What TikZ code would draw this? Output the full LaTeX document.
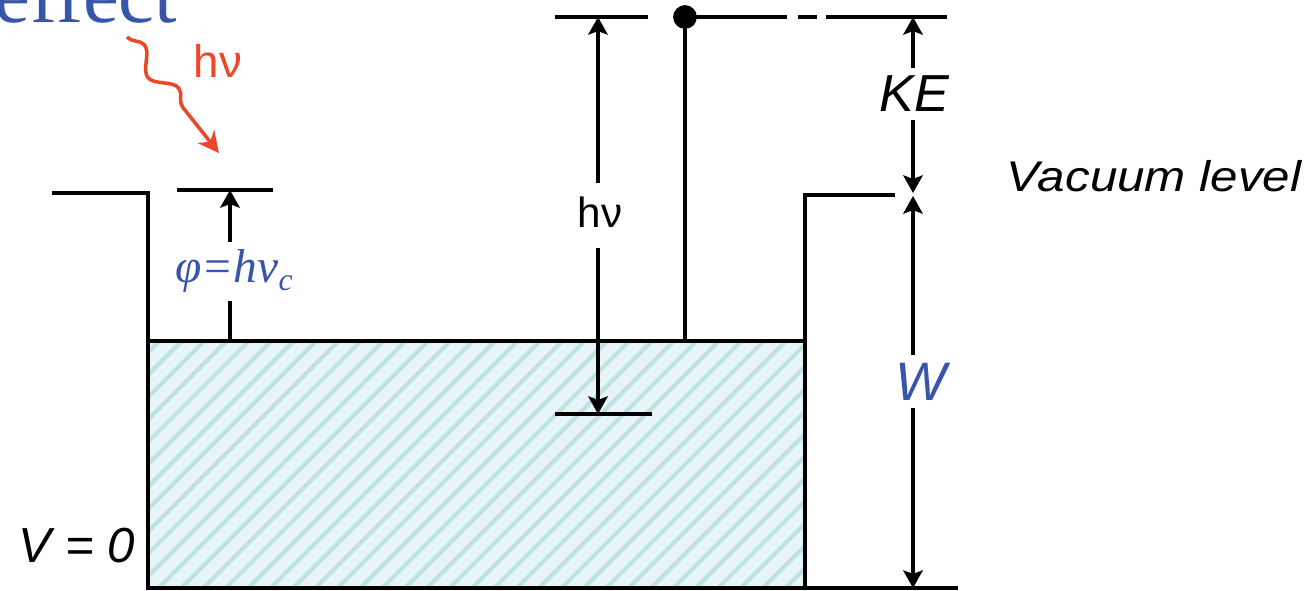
\documentclass[tikz,border=0pt]{standalone}
\usepackage{fontspec}
\setmainfont{Liberation Serif}
\setsansfont{Liberation Sans}
\usetikzlibrary{arrows.meta,patterns.meta,decorations.pathmorphing}

\definecolor{textblue}{RGB}{55,85,170}
\definecolor{photonred}{RGB}{240,70,40}
\definecolor{hatch}{RGB}{190,226,228}

\newcommand{\fsz}[1]{\fontsize{#1}{#1}\selectfont}

\begin{document}
\begin{tikzpicture}[x=0.01cm,y=-0.01cm,
  level/.style={line width=1.2pt},
  dim/.style={line width=1pt},
  tip/.style={-{Stealth[length=5pt,width=5.5pt,inset=1pt]}},
  lbl/.style={inner sep=0pt,font=\sffamily\itshape}]
\useasboundingbox (0,0) rectangle (1315,590);

  % Metal (filled band up to the Fermi level)
  \fill[hatch!35] (148,341) rectangle (805,588);
  \fill[pattern={Lines[angle=45,distance=4.5pt,line width=1.2pt]},pattern color=hatch]
    (148,341) rectangle (805,588);

  % Well outline
  \coordinate (vacLeft)  at (52,193);
  \coordinate (wallLtop) at (148,193);
  \coordinate (wallLbot) at (148,588);
  \coordinate (baseEnd)  at (958,588);
  \coordinate (vacRight) at (895,195);
  \coordinate (wallRtop) at (805,195);
  \coordinate (wallRbot) at (805,588);
  \coordinate (fermiL)   at (148,341);
  \coordinate (fermiR)   at (805,341);
  \draw[level] (vacLeft) -- (wallLtop) -- (wallLbot) -- (baseEnd);
  \draw[level] (vacRight) -- (wallRtop) -- (wallRbot);
  \draw[level] (fermiL) -- (fermiR);

  % Title fragment
  \node[anchor=base west,inner sep=0pt,text=textblue,font=\fsz{23}] (title)
    at (-6,22) {effect};

  % Incoming photon
  \coordinate (photonA) at (127,37);
  \coordinate (photonB) at (219,153);
  \draw[photonred,line width=1pt,-{Stealth[length=6pt,width=6pt]},
    decorate,decoration={snake,amplitude=2.5pt,segment length=0.55cm,post length=12pt}]
    (photonA) -- (photonB);
  \node[inner sep=0pt,text=photonred,font=\sffamily\fsz{13}] (hvIn) at (218,61) {hν};

  % Work function
  \coordinate (wfL) at (177,190);
  \coordinate (wfR) at (273,190);
  \coordinate (wfTop) at (230,190);
  \coordinate (wfA) at (230,242);
  \coordinate (wfB) at (230,301);
  \coordinate (wfBot) at (230,341);
  \draw[level] (wfL) -- (wfR);
  \node[inner sep=0pt,text=textblue,font=\fsz{13.5}\itshape] (phi) at (234,271)
    {φ=hν\raisebox{-0.35ex}{\fsz{9}c}};
  \draw[dim,tip] (wfA) -- (wfTop);
  \draw[dim] (wfB) -- (wfBot);

  % Photon energy hv
  \coordinate (hvTopL) at (555,17);
  \coordinate (hvTopR) at (648,17);
  \coordinate (hvBotL) at (555,414);
  \coordinate (hvBotR) at (652,414);
  \coordinate (hvTop) at (598,17);
  \coordinate (hvBot) at (598,414);
  \coordinate (hvA) at (598,183);
  \coordinate (hvB) at (598,248);
  \draw[level] (hvTopL) -- (hvTopR);
  \draw[level] (hvBotL) -- (hvBotR);
  \node[inner sep=0pt,font=\sffamily\fsz{12}] (hvMid) at (600,212) {hν};
  \draw[dim,tip] (hvA) -- (hvTop);
  \draw[dim,tip] (hvB) -- (hvBot);

  % Emitted electron
  \coordinate (eBot) at (685,341);
  \coordinate (eLvlA) at (787,17);
  \coordinate (eDashA) at (798,17);
  \coordinate (eDashB) at (817,17);
  \coordinate (eLvlB) at (826,17);
  \coordinate (eLvlC) at (947,17);
  \node[circle,fill,inner sep=0pt,minimum size=6.75pt] (elec) at (685,17) {};
  \draw[dim] (elec.center) -- (eBot);
  \draw[level] (elec.center) -- (eLvlA);
  \draw[level] (eDashA) -- (eDashB);
  \draw[level] (eLvlB) -- (eLvlC);

  % Kinetic energy
  \coordinate (keTop) at (913,17);
  \coordinate (keBot) at (913,193);
  \coordinate (keA) at (913,68);
  \coordinate (keB) at (913,120);
  \node[lbl,font=\sffamily\itshape\fsz{14.8}] (KE) at (914,94) {KE};
  \draw[dim,tip] (keA) -- (keTop);
  \draw[dim,tip] (keB) -- (keBot);

  % Well depth W
  \coordinate (wTop) at (913,196);
  \coordinate (wBot) at (913,588);
  \coordinate (wA) at (913,355);
  \coordinate (wB) at (913,408);
  \node[lbl,text=textblue,font=\sffamily\itshape\fsz{15.4}] (W) at (921,382) {W};
  \draw[dim,tip] (wA) -- (wTop);
  \draw[dim,tip] (wB) -- (wBot);

  % Level labels
  \node[lbl,anchor=west,xscale=1.15,font=\sffamily\itshape\fsz{12.2}] (vacuum)
    at (1006,176) {Vacuum level};
  \node[lbl,font=\sffamily\itshape\fsz{14}] (vzero) at (77,546) {V = 0};

\end{tikzpicture}
\end{document}
